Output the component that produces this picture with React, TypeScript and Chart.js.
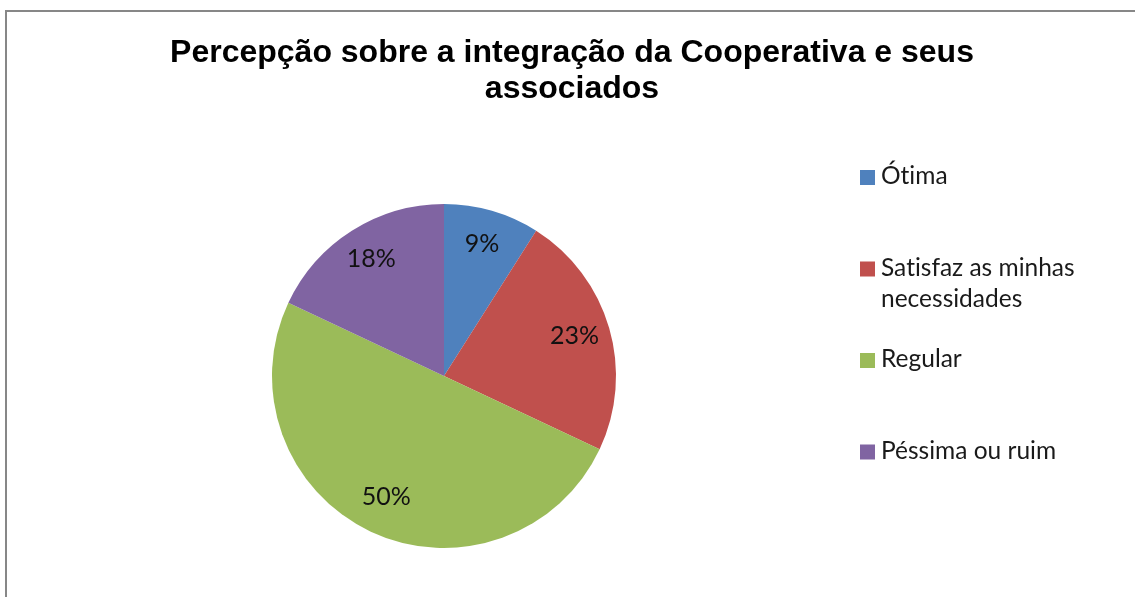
import React, { useEffect, useRef } from 'react';
import { Chart, registerables } from 'chart.js';

Chart.register(...registerables);

const titleLines = ['Percepção sobre a integração da Cooperativa e seus', 'associados'];
const categories = ['Ótima', 'Satisfaz as minhas necessidades', 'Regular', 'Péssima ou ruim'];
const values = [9, 23, 50, 18];
const sliceColors = ['#4F81BD', '#C0504D', '#9BBB59', '#8064A2'];

const W = 1135;
const H = 597;
const BODY_FONT = 'Lato, "Open Sans", sans-serif';
const TITLE_FONT = 'bold 32px "Liberation Sans", Arial, sans-serif';

function wrapText(ctx: CanvasRenderingContext2D, text: string, maxW: number): string[] {
  const words = text.split(' ');
  const lines: string[] = [];
  let cur = '';
  for (const w of words) {
    const test = cur ? cur + ' ' + w : w;
    if (cur && ctx.measureText(test).width > maxW) {
      lines.push(cur);
      cur = w;
    } else {
      cur = test;
    }
  }
  if (cur) lines.push(cur);
  return lines;
}

const decorPlugin = {
  id: 'decor',
  beforeDraw(chart: any) {
    const ctx: CanvasRenderingContext2D = chart.ctx;
    ctx.save();
    ctx.fillStyle = '#ffffff';
    ctx.fillRect(0, 0, W, H);
    ctx.strokeStyle = '#878787';
    ctx.lineWidth = 2;
    ctx.beginPath();
    ctx.moveTo(6, H);
    ctx.lineTo(6, 11);
    ctx.lineTo(W, 11);
    ctx.stroke();
    ctx.fillStyle = '#000000';
    ctx.font = TITLE_FONT;
    ctx.textAlign = 'center';
    ctx.textBaseline = 'alphabetic';
    titleLines.forEach((t, i) => ctx.fillText(t, 572, 62 + i * 36));
    ctx.restore();
  },
  afterDatasetsDraw(chart: any) {
    const ctx: CanvasRenderingContext2D = chart.ctx;
    const meta = chart.getDatasetMeta(0);
    const data: number[] = chart.data.datasets[0].data;
    const total = data.reduce((a, b) => a + b, 0);
    ctx.save();
    (ctx as any).textRendering = 'optimizeSpeed';
    ctx.font = `25px ${BODY_FONT}`;
    ctx.fillStyle = '#111111';
    ctx.textAlign = 'center';
    ctx.textBaseline = 'middle';
    meta.data.forEach((arc: any, i: number) => {
      const p = arc.getProps(['x', 'y', 'startAngle', 'endAngle', 'outerRadius'], true);
      const mid = (p.startAngle + p.endAngle) / 2;
      const r = p.outerRadius * 0.79;
      const label = Math.round((data[i] / total) * 100) + '%';
      ctx.fillText(label, p.x + Math.cos(mid) * r, p.y + Math.sin(mid) * r - 2);
    });

    // legend
    const labels: string[] = chart.data.labels;
    const colors: string[] = chart.data.datasets[0].backgroundColor;
    ctx.font = `24.5px ${BODY_FONT}`;
    ctx.textAlign = 'left';
    ctx.textBaseline = 'alphabetic';
    const firstBaseline = 184;
    const step = 91.5;
    const lineH = 31;
    labels.forEach((lab, i) => {
      const base = firstBaseline + i * step;
      ctx.fillStyle = colors[i];
      ctx.fillRect(860, base - 14, 15, 15);
      ctx.fillStyle = '#1a1a1a';
      const lines = wrapText(ctx, lab, 235);
      lines.forEach((ln, j) => ctx.fillText(ln, 881, base + j * lineH));
    });
    ctx.restore();
  },
};

export default function App() {
  const ref = useRef<HTMLCanvasElement | null>(null);
  useEffect(() => {
    if (!ref.current) return;
    const chart = new Chart(ref.current, {
      type: 'pie',
      data: {
        labels: categories,
        datasets: [
          {
            data: values,
            backgroundColor: sliceColors,
            borderWidth: 0,
          },
        ],
      },
      options: {
        responsive: false,
        animation: false,
        devicePixelRatio: 1,
        layout: { padding: { left: 272, right: 519, top: 204, bottom: 49 } },
        plugins: {
          legend: { display: false },
          title: { display: false },
          tooltip: { enabled: false },
        },
      },
      plugins: [decorPlugin],
    });
    return () => chart.destroy();
  }, []);
  return (
    <div style={{ position: 'absolute', left: 0, top: 0, width: W, height: H }}>
      <canvas ref={ref} width={W} height={H} style={{ display: 'block' }} />
    </div>
  );
}
